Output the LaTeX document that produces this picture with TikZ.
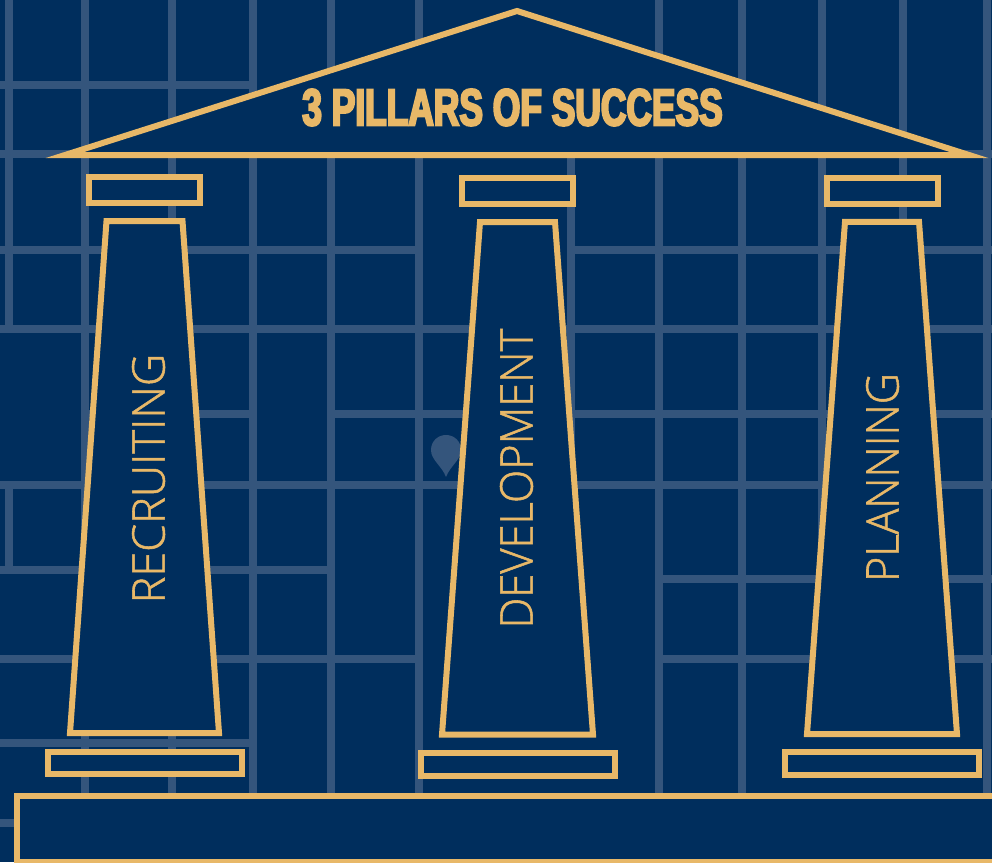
\documentclass[tikz,border=0pt]{standalone}
\usepackage{fontspec}
\setmainfont{Open Sans}
\newfontfamily\pillarfont[FakeBold=1.2]{Open Sans Light}
\newfontfamily\roofont[FakeBold=4,FakeStretch=0.68]{Liberation Sans Bold}
\definecolor{navy}{HTML}{002E5D}
\definecolor{gridblue}{HTML}{34557C}
\definecolor{gold}{HTML}{E8B868}
\tikzset{
  gridline/.style={draw=gridblue,line width=7.5pt},
  stone/.style={draw=gold,fill=navy,line width=6pt,miter limit=10},
  pillarlabel/.style={text=gold,rotate=90,inner sep=0pt,font=\pillarfont\fontsize{45}{45}\selectfont},
  rooflabel/.style={text=gold,inner sep=0pt,font=\roofont\fontsize{52}{52}\selectfont}
}
\begin{document}
\begin{tikzpicture}[x=1pt,y=-1pt]
\useasboundingbox (0,0) rectangle (992,862);
\clip (0,0) rectangle (992,862);
\fill[navy] (0,0) rectangle (992,862);
% street grid
\foreach \x/\a/\b in {9/0/329, 9/485/570, 85/0/800, 172/0/800, 253/0/800, 331/0/800, 419/0/800, 571/154/485, 659/0/800, 742/0/800, 822/0/660, 903/0/400, 987/0/800}
  \draw[gridline] (\x,\a) -- (\x,\b);
\foreach \y/\a/\b in {85/0/257, 154/0/992, 250/0/419, 250/571/992, 329/0/992, 414/85/253, 414/331/992, 485/0/992, 570/0/331, 579/659/992, 659/0/419, 659/657/992, 743/0/253, 823/0/20}
  \draw[gridline] (\a,\y) -- (\b,\y);
% map pin
\fill[gridblue] (446,477) .. controls (442,466) and (431,460) .. (431,450)
  .. controls (431,441) and (438,435) .. (446,435)
  .. controls (454,435) and (461,441) .. (461,450)
  .. controls (461,460) and (450,466) .. (446,477) -- cycle;
% roof
\draw[stone] (65,155) -- (517,11) -- (969,155) -- cycle;
% capitals
\draw[stone] (88.8,176.8) rectangle (200.2,203.2);
\draw[stone] (461.8,178) rectangle (573.2,204.2);
\draw[stone] (826.8,177.8) rectangle (938.2,204.2);
% shafts
\draw[stone] (106.5,221) -- (182.5,221) -- (219,733) -- (70,733) -- cycle;
\draw[stone] (480,222) -- (555,222) -- (593,734.5) -- (442,734.5) -- cycle;
\draw[stone] (845,221.8) -- (919,221.8) -- (957,734) -- (807,734) -- cycle;
% bases
\draw[stone] (47.8,751.8) rectangle (242.2,774.2);
\draw[stone] (420.8,752.8) rectangle (615.2,776.2);
\draw[stone] (785,752) rectangle (979,775);
% platform
\draw[stone] (17,796) rectangle (1010,862);
% labels
\node[rooflabel] (title) at (512.5,107.5) {3 PILLARS OF SUCCESS};
\node[pillarlabel] (recruiting) at (148.5,478.5) {RECRUITING};
\node[pillarlabel,xscale=0.967] (development) at (516.5,478.5) {DEVELOPMENT};
\node[pillarlabel,xscale=0.96] (planning) at (882.5,477.5) {PLANNING};
\end{tikzpicture}
\end{document}
